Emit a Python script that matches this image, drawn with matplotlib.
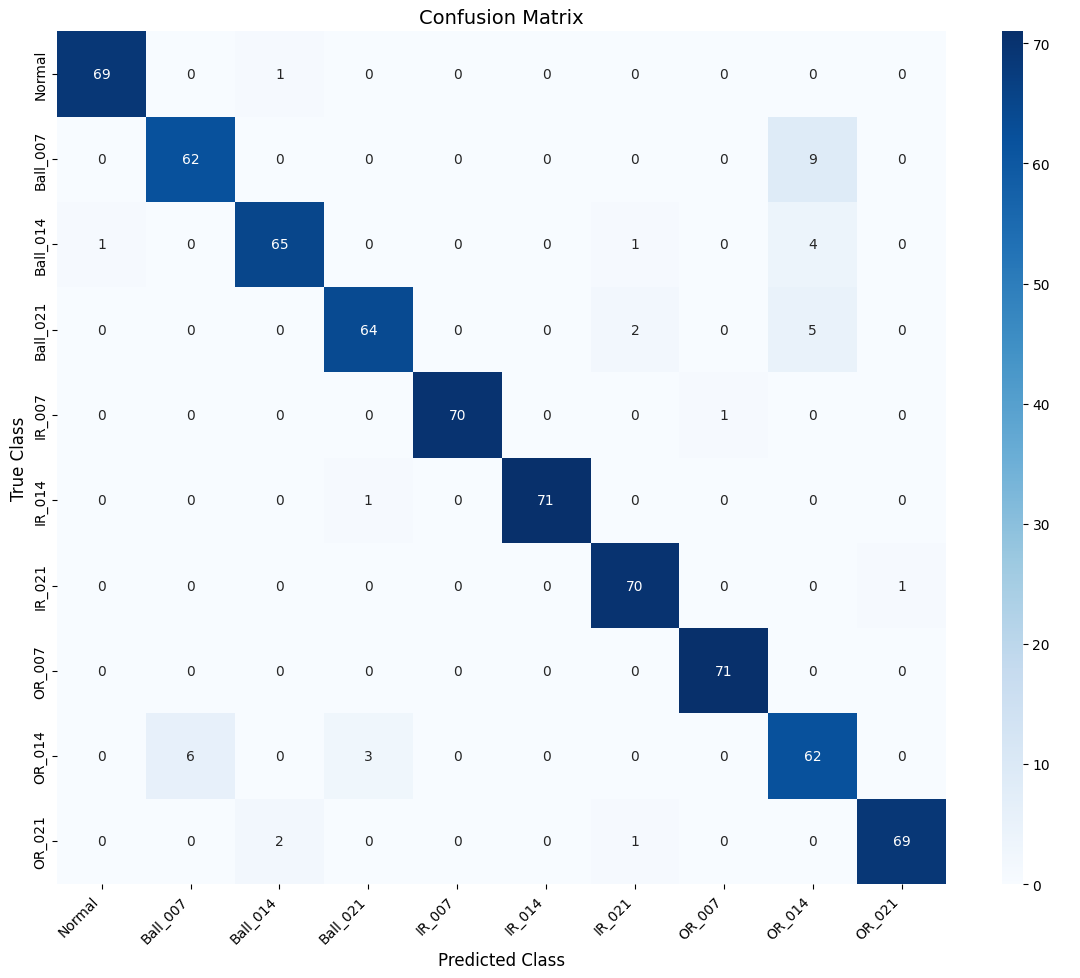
import numpy as np
import seaborn as sns
from matplotlib import pyplot as plt

classes = ['Normal', 'Ball_007', 'Ball_014', 'Ball_021', 'IR_007',
           'IR_014', 'IR_021', 'OR_007', 'OR_014', 'OR_021']

cm = np.array([
    [69, 0, 1, 0, 0, 0, 0, 0, 0, 0],
    [0, 62, 0, 0, 0, 0, 0, 0, 9, 0],
    [1, 0, 65, 0, 0, 0, 1, 0, 4, 0],
    [0, 0, 0, 64, 0, 0, 2, 0, 5, 0],
    [0, 0, 0, 0, 70, 0, 0, 1, 0, 0],
    [0, 0, 0, 1, 0, 71, 0, 0, 0, 0],
    [0, 0, 0, 0, 0, 0, 70, 0, 0, 1],
    [0, 0, 0, 0, 0, 0, 0, 71, 0, 0],
    [0, 6, 0, 3, 0, 0, 0, 0, 62, 0],
    [0, 0, 2, 0, 0, 0, 1, 0, 0, 69],
])

fig = plt.figure(figsize=(10.8, 9.79), dpi=100)
ax = fig.add_axes([0.053, 0.096, 0.823, 0.871])
cax = fig.add_axes([0.928, 0.096, 0.019, 0.871])
sns.heatmap(cm, annot=True, fmt='d', cmap='Blues', ax=ax, cbar_ax=cax,
            xticklabels=classes, yticklabels=classes,
            annot_kws={'fontsize': 10})
ax.set_title('Confusion Matrix', fontsize=14)
ax.set_xlabel('Predicted Class', fontsize=12)
ax.set_ylabel('True Class', fontsize=12)
plt.setp(ax.get_xticklabels(), rotation=45, ha='right')
plt.setp(ax.get_yticklabels(), rotation=90, va='center')
fig.savefig('out.png', dpi=100)
